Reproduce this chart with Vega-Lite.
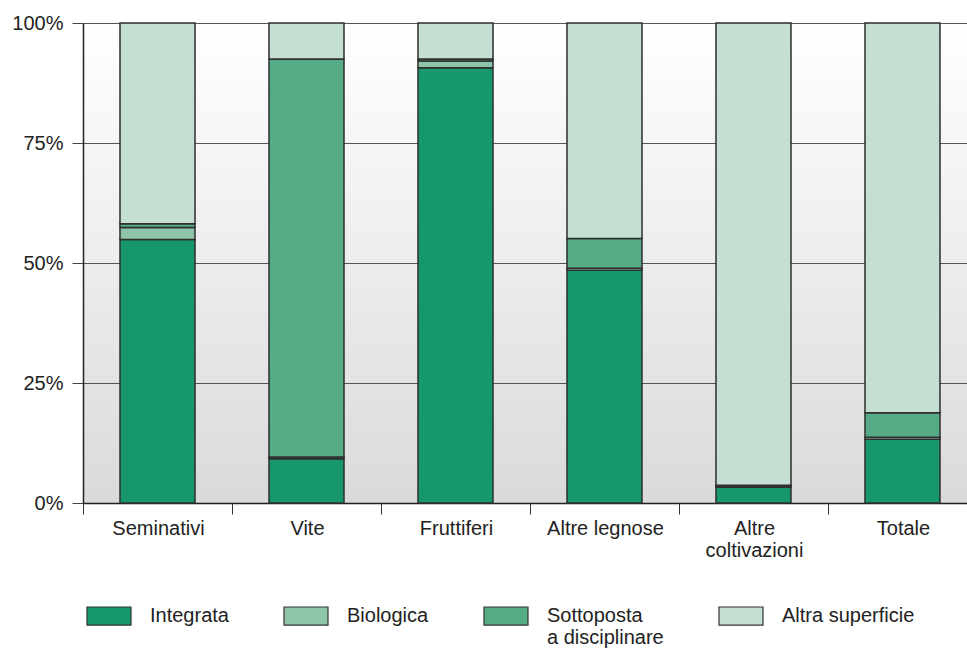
{
  "$schema": "https://vega.github.io/schema/vega-lite/v6.json",
  "width": 884,
  "height": 480,
  "autosize": {"type": "none"},
  "padding": {"left": 83, "top": 23, "right": 0, "bottom": 145},
  "background": "white",
  "config": {
    "font": "Liberation Sans",
    "view": {
      "stroke": null,
      "fill": {"gradient": "linear", "x1": 0, "y1": 0, "x2": 0, "y2": 1, "stops": [{"offset": 0, "color": "#ffffff"}, {"offset": 1, "color": "#dadada"}]}
    },
    "axis": {"labelFont": "Liberation Sans", "labelFontSize": 20, "labelColor": "#222222"}
  },
  "data": {
    "values": [
      {"cat": "Seminativi", "serie": "Integrata", "ord": 1, "val": 54.9},
      {"cat": "Seminativi", "serie": "Biologica", "ord": 2, "val": 2.5},
      {"cat": "Seminativi", "serie": "Sottoposta a disciplinare", "ord": 3, "val": 0.8},
      {"cat": "Seminativi", "serie": "Altra superficie", "ord": 4, "val": 41.8},
      {"cat": "Vite", "serie": "Integrata", "ord": 1, "val": 9.2},
      {"cat": "Vite", "serie": "Biologica", "ord": 2, "val": 0.4},
      {"cat": "Vite", "serie": "Sottoposta a disciplinare", "ord": 3, "val": 82.9},
      {"cat": "Vite", "serie": "Altra superficie", "ord": 4, "val": 7.5},
      {"cat": "Fruttiferi", "serie": "Integrata", "ord": 1, "val": 90.7},
      {"cat": "Fruttiferi", "serie": "Biologica", "ord": 2, "val": 1.4},
      {"cat": "Fruttiferi", "serie": "Sottoposta a disciplinare", "ord": 3, "val": 0.4},
      {"cat": "Fruttiferi", "serie": "Altra superficie", "ord": 4, "val": 7.5},
      {"cat": "Altre legnose", "serie": "Integrata", "ord": 1, "val": 48.5},
      {"cat": "Altre legnose", "serie": "Biologica", "ord": 2, "val": 0.4},
      {"cat": "Altre legnose", "serie": "Sottoposta a disciplinare", "ord": 3, "val": 6.2},
      {"cat": "Altre legnose", "serie": "Altra superficie", "ord": 4, "val": 44.9},
      {"cat": "Altre coltivazioni", "serie": "Integrata", "ord": 1, "val": 3.3},
      {"cat": "Altre coltivazioni", "serie": "Biologica", "ord": 2, "val": 0.3},
      {"cat": "Altre coltivazioni", "serie": "Sottoposta a disciplinare", "ord": 3, "val": 0.1},
      {"cat": "Altre coltivazioni", "serie": "Altra superficie", "ord": 4, "val": 96.3},
      {"cat": "Totale", "serie": "Integrata", "ord": 1, "val": 13.3},
      {"cat": "Totale", "serie": "Biologica", "ord": 2, "val": 0.4},
      {"cat": "Totale", "serie": "Sottoposta a disciplinare", "ord": 3, "val": 5.1},
      {"cat": "Totale", "serie": "Altra superficie", "ord": 4, "val": 81.2}
    ]
  },
  "mark": {"type": "bar", "stroke": "#2e2e2e", "strokeWidth": 1.5},
  "encoding": {
    "x": {
      "field": "cat",
      "type": "nominal",
      "sort": ["Seminativi", "Vite", "Fruttiferi", "Altre legnose", "Altre coltivazioni", "Totale"],
      "scale": {"paddingInner": 0.4966, "paddingOuter": 0.2148, "align": 0.578, "round": false},
      "axis": {
        "title": null,
        "labelAngle": 0,
        "bandPosition": 0,
        "tickOffset": -37,
        "labelOffset": 37.5,
        "tickSize": 11,
        "tickColor": "#333333",
        "domainColor": "#222222",
        "domainWidth": 1.5,
        "labelPadding": 4,
        "labelBaseline": "top",
        "labelLineHeight": 22,
        "labelExpr": "datum.label == 'Altre coltivazioni' ? ['Altre', 'coltivazioni'] : datum.label"
      }
    },
    "y": {
      "field": "val",
      "type": "quantitative",
      "stack": "normalize",
      "scale": {"domain": [0, 1], "nice": false},
      "axis": {
        "title": null,
        "values": [0, 0.25, 0.5, 0.75, 1],
        "format": ".0%",
        "grid": true,
        "gridColor": "#555555",
        "gridWidth": 1,
        "gridOpacity": 1,
        "tickSize": 11,
        "tickColor": "#444444",
        "domainColor": "#222222",
        "domainWidth": 1.5,
        "labelPadding": 9
      }
    },
    "color": {
      "field": "serie",
      "type": "nominal",
      "sort": ["Integrata", "Biologica", "Sottoposta a disciplinare", "Altra superficie"],
      "scale": {
        "domain": ["Integrata", "Biologica", "Sottoposta a disciplinare", "Altra superficie"],
        "range": ["#16976c", "#8ec5a8", "#55ab85", "#c5dfd2"]
      },
      "legend": {
        "title": null,
        "orient": "none",
        "legendX": 3,
        "legendY": 560,
        "direction": "horizontal",
        "columns": 4,
        "columnPadding": 52,
        "symbolType": "M-1,0.045L1,0.045L1,0.865L-1,0.865Z",
        "symbolSize": 1936,
        "symbolStrokeColor": "#333333",
        "symbolStrokeWidth": 1.2,
        "symbolOpacity": 1,
        "labelFont": "Liberation Sans",
        "labelFontSize": 20,
        "labelColor": "#222222",
        "labelOffset": 18,
        "labelLimit": 300,
        "labelBaseline": "top",
        "labelExpr": "datum.label == 'Sottoposta a disciplinare' ? ['Sottoposta', 'a disciplinare'] : [datum.label, '']"
      }
    },
    "order": {"field": "ord", "type": "quantitative"}
  }
}
